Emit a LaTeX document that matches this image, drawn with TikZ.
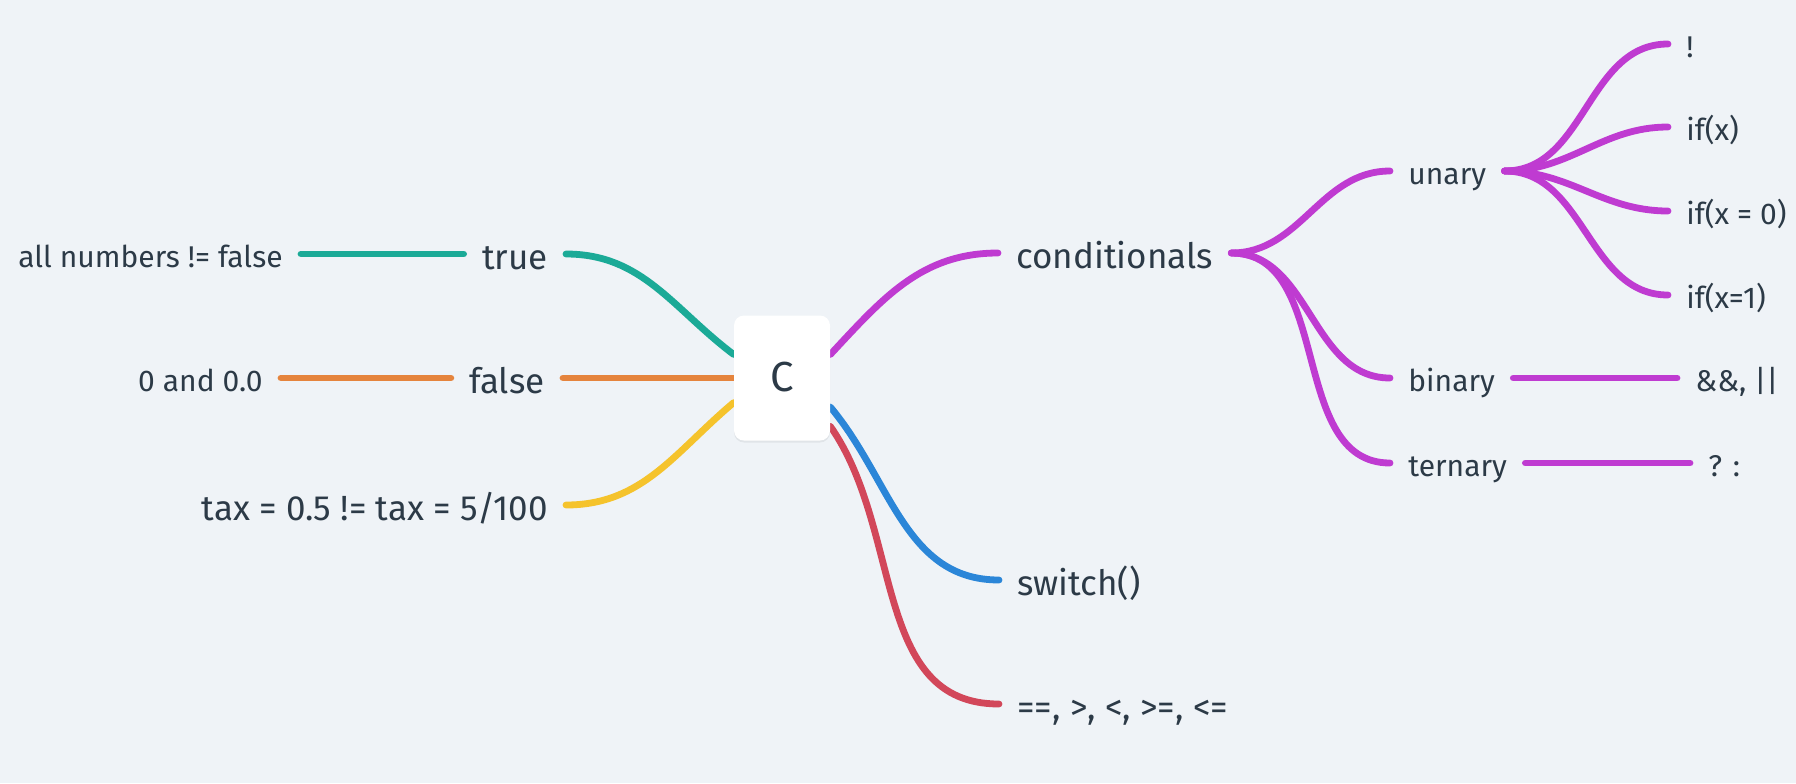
\documentclass[tikz,border=0pt]{standalone}
\usepackage{fontspec}
\setmainfont{Fira Sans}
\usetikzlibrary{backgrounds,shadows}
\definecolor{bgcol}{HTML}{EFF3F7}
\definecolor{ink}{HTML}{2C3A47}
\definecolor{cteal}{HTML}{1BAA97}
\definecolor{corange}{HTML}{E5843D}
\definecolor{cyellow}{HTML}{F5C32C}
\definecolor{cpurple}{HTML}{BF3BD1}
\definecolor{cblue}{HTML}{2B86D8}
\definecolor{cred}{HTML}{D2475A}
\begin{document}
\begin{tikzpicture}[x=0.5pt, y=-0.5pt,
        every node/.style={text=ink, inner xsep=9pt, inner ysep=2pt, text depth=0pt},
        lvlone/.style={font=\fontsize{17.5}{20}\selectfont, text height=15.5pt},
        lvltwo/.style={font=\fontsize{15}{18}\selectfont, text height=13pt},
        box/.style={fill=white, rounded corners=5pt, minimum width=48pt, minimum height=62.5pt,
            text height=13.5pt, font=\fontsize{21}{24}\selectfont,
            drop shadow={shadow xshift=0pt, shadow yshift=-1pt, opacity=0.06, fill=black}},
        link/.style={line width=3.4pt, line cap=round}]
        \useasboundingbox (0,0) rectangle (1796,783);
        \node[box] (C) at (782,378) {C};

        % left side
        \node[lvlone, anchor=east] (true) at (566,254) {true};
        \node[lvltwo, anchor=east] (allnum) at (301,254) {all numbers != false};
        \node[lvlone, anchor=east] (false) at (563,378) {false};
        \node[lvltwo, anchor=east] (zero) at (281,378) {0 and 0.0};
        \node[lvlone, anchor=east] (tax) at (566,505) {tax = 0.5 != tax = 5/100};

        % right side
        \node[lvlone, anchor=west] (cond) at (998,253) {conditionals};
        \node[lvlone, anchor=west] (switch) at (999,580) {switch()};
        \node[lvlone, anchor=west] (cmp) at (999,704) {==, >, <, >=, <=};
        \node[lvltwo, anchor=west] (unary) at (1390,171) {unary};
        \node[lvltwo, anchor=west] (binary) at (1390,378) {binary};
        \node[lvltwo, anchor=west] (ternary) at (1390,463) {ternary};
        \node[lvltwo, anchor=west] (bang) at (1668,44) {!};
        \node[lvltwo, anchor=west] (ifx) at (1668,127) {if(x)};
        \node[lvltwo, anchor=west] (ifzero) at (1668,211) {if(x = 0)};
        \node[lvltwo, anchor=west] (ifone) at (1668,295) {if(x=1)};
        \node[lvltwo, anchor=west] (andor) at (1677,378) {\&\&, ||};
        \node[lvltwo, anchor=west] (tern) at (1690,463) {? :};

        \begin{scope}[on background layer]
            \fill[bgcol] (0,0) rectangle (1796,783);
            \draw[link, cteal] (C.154) to[out=143, in=0] (true.east);
            \draw[link, cteal] (true.west) -- (allnum.east);
            \draw[link, corange] (C.west) -- (false.east);
            \draw[link, corange] (false.west) -- (zero.east);
            \draw[link, cyellow] (C.207) to[out=220, in=0] (tax.east);
            \draw[link, cblue] (C.-31) to[out=-50, in=180] (switch.west);
            \draw[link, cred] (C.-45) to[out=-55, in=180] (cmp.west);
            \draw[link, cpurple] (C.26) to[out=47, in=180] (cond.west);
            \foreach \n in {unary, binary, ternary}
                \draw[link, cpurple] (cond.east) to[out=0, in=180] (\n.west);
            \foreach \n in {bang, ifx, ifzero, ifone}
                \draw[link, cpurple] (unary.east) to[out=0, in=180] (\n.west);
            \draw[link, cpurple] (binary.east) -- (andor.west);
            \draw[link, cpurple] (ternary.east) -- (tern.west);
        \end{scope}
    \end{tikzpicture}
\end{document}
